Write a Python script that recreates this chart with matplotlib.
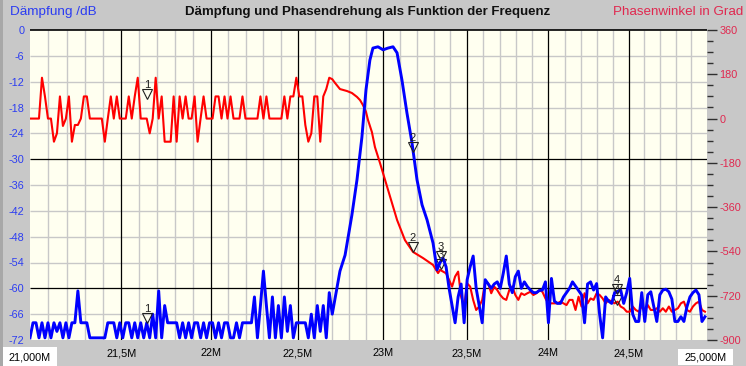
import numpy as np
import matplotlib
matplotlib.use("Agg")
import matplotlib.pyplot as plt
from matplotlib.patches import Rectangle
from matplotlib.ticker import FixedLocator, MultipleLocator, NullLocator, NullFormatter
from matplotlib.transforms import ScaledTranslation

plt.rcParams['font.family'] = ['Liberation Sans', 'DejaVu Sans']

# --- sweep data -------------------------------------------------------------
# low band noise floor (21.0 .. 22.70 MHz)
lo_start, lo_stop = 21.0, 22.70
blue_lo_db = [
    -71.5, -68, -68, -71.5, -68, -71.5, -68, -71.5, -68, -70,
    -68, -71.5, -68, -71.5, -68, -68, -60.6, -68, -68, -68,
    -71.5, -71.5, -71.5, -71.5, -71.5, -71.5, -68, -68, -68, -71.5,
    -68, -71.5, -68, -68, -71.5, -68, -71.5, -68, -71.5, -68,
    -71.5, -66, -71.5, -60.6, -71.5, -64, -68, -68, -68, -68,
    -71.5, -68, -71.5, -68, -71.5, -68, -68, -71.5, -68, -71.5,
    -68, -68, -71.5, -68, -71.5, -68, -68, -71.5, -71.5, -68,
    -71.5, -68, -68, -68, -68, -62, -71.5, -64, -56, -64,
    -71.5, -62, -71.5, -64, -71.5, -62, -70, -64, -71.5, -68,
    -68, -68, -68, -71.5, -66, -71.5, -64, -70, -64, -71.5,
    -61, -66]
red_lo_deg = [
    0, 0, 0, 0, 166, 90, 0, 0, -94, -60,
    90, -30, 0, 90, -94, -26, -26, 0, 90, 90,
    0, 0, 0, 0, 0, -94, 0, 90, 0, 90,
    0, 0, 0, 90, 0, 90, 166, 0, 0, 0,
    -60, 0, 166, 0, 90, -94, -94, -94, 90, -94,
    90, 0, 90, 0, 0, 90, -94, 0, 90, 0,
    0, 0, 90, 90, 0, 90, 0, 90, 0, 0,
    0, 90, 0, 0, 0, 0, 0, 90, 0, 90,
    0, 0, 0, 0, 0, 90, 0, 90, 90, 166,
    90, 90, -26, -94, -60, 90, 90, -94, 90, 120,
    166, 160]

# pass band
blue_lobe_mhz = [22.745, 22.775, 22.815, 22.845, 22.874, 22.898, 22.921, 22.939,
                 22.969, 22.999, 23.028, 23.058, 23.082, 23.111, 23.141, 23.171,
                 23.201, 23.231, 23.261, 23.297, 23.321]
blue_lobe_db = [-56, -52.3, -43.0, -34.8, -24.9, -13.9, -7.0, -4.2,
                -3.9, -4.6, -4.2, -3.9, -5.3, -11.6, -19.3, -26.2,
                -34.8, -40.6, -44.1, -49.5, -55.7]
red_lobe_mhz = [22.716, 22.745, 22.786, 22.815, 22.845, 22.863, 22.880, 22.898,
                22.910, 22.933, 22.951, 22.981, 23.011, 23.046, 23.082, 23.129,
                23.177, 23.237, 23.297, 23.327]
red_lobe_deg = [145, 120, 112, 104, 88, 75, 55, 27,
                -6, -55, -116, -181, -250, -331, -412, -494,
                -542, -567, -595, -628]

# high band noise floor (23.339 .. 24.987 MHz)
hi_start, hi_stop = 23.339, 24.987
blue_hi_db = [
    -54, -53, -55, -60, -64, -68, -62, -59, -68, -58,
    -55, -52.5, -60, -64, -68, -58, -59, -60, -59, -58.5,
    -60, -56.5, -52.5, -59, -61, -57.3, -56, -60, -58.5, -59.6,
    -60.4, -61, -61, -60.5, -60.4, -58.5, -68, -57.7, -63, -63.5,
    -63.5, -62, -61, -60, -58.5, -59.5, -60.5, -61.5, -68, -59,
    -58.5, -60.4, -58.9, -66, -71.5, -62, -63, -63.5, -61, -60.8,
    -60.4, -63.5, -61, -57.7, -66, -67.7, -67.7, -61, -67.7, -61.5,
    -60.8, -64.3, -67.7, -61.5, -60.4, -60.2, -60.8, -62.5, -67.7, -67.7,
    -66.6, -67.7, -64.3, -62, -61, -60.4, -61.5, -67.7, -66.6]
red_hi_deg = [
    -615, -622, -629, -656, -683, -642, -622, -724, -764, -670,
    -683, -737, -778, -764, -737, -663, -670, -710, -683, -697,
    -717, -731, -737, -697, -683, -717, -737, -710, -717, -710,
    -704, -717, -710, -697, -704, -731, -751, -751, -751, -751,
    -744, -751, -758, -737, -737, -778, -724, -764, -710, -751,
    -731, -737, -710, -717, -731, -751, -737, -744, -751, -744,
    -764, -771, -785, -785, -764, -778, -785, -764, -778, -758,
    -778, -778, -771, -785, -771, -785, -764, -785, -778, -771,
    -751, -744, -778, -785, -764, -751, -744, -778, -785]

# markers (frequency in MHz, readouts)
marker_labels = ['1', '2', '3', '4']
marker_mhz = [21.642, 23.177, 23.345, 24.427]
marker_blue_db = [-68, -28.3, -53.6, -61.3]
marker_red_deg = [80, -542, -611, -754]

x_ticks = [21.5, 22.0, 22.5, 23.0, 23.5, 24.0, 24.5]
x_labels = ['21,5M', '22M', '22,5M', '23M', '23,5M', '24M', '24,5M']

# --- assemble traces --------------------------------------------------------
lo_f = np.geomspace(lo_start, lo_stop, len(blue_lo_db))
hi_f = np.geomspace(hi_start, hi_stop, len(blue_hi_db))
blue_f = np.concatenate([lo_f, blue_lobe_mhz, hi_f])
blue_v = np.concatenate([blue_lo_db, blue_lobe_db, blue_hi_db])
red_f = np.concatenate([np.geomspace(lo_start, lo_stop, len(red_lo_deg)), red_lobe_mhz,
                        np.geomspace(hi_start, hi_stop, len(red_hi_deg))])
red_v = np.concatenate([red_lo_deg, red_lobe_deg, red_hi_deg])

# --- figure -----------------------------------------------------------------
BG = '#c8c8c8'
PLOT_BG = '#fffff0'
BLUE_TXT = '#2b3cf2'
RED_TXT = '#e0284f'

fig = plt.figure(figsize=(7.46, 3.66), dpi=100, facecolor=BG)
ax = fig.add_axes([30 / 746, 26 / 366, 677 / 746, 310 / 366])
ax.set_xscale('log')
ax2 = ax.twinx()
ax.set_zorder(ax2.get_zorder() + 1)
ax.patch.set_visible(False)
ax2.patch.set_visible(True)
ax2.patch.set_facecolor(PLOT_BG)

ax.set_xlim(21.0, 25.0)
ax.set_ylim(-72, 0)
ax2.set_ylim(-900, 360)

# grid (drawn on the back axes so both traces sit above it)
minor_f = [f / 10 for f in range(211, 250) if f % 5 != 0]
ax2.vlines(minor_f, 0, 1, transform=ax2.get_xaxis_transform(), color='#c8c8c8', lw=1.0, zorder=0)
ax2.vlines(x_ticks, 0, 1, transform=ax2.get_xaxis_transform(), color='black', lw=0.9, zorder=0.5)
db_minor = [d for d in range(-6, -72, -6) if d % 30 != 0]
ax2.hlines(db_minor, 0, 1, transform=ax.get_yaxis_transform(), color='#c8c8c8', lw=1.0, zorder=0)
ax2.hlines([-30, -60], 0, 1, transform=ax.get_yaxis_transform(), color='black', lw=0.9, zorder=0.5)
ax2.hlines([0], 0, 1, transform=ax.get_yaxis_transform(), color='black', lw=1.2, zorder=0.5,
           clip_on=False)

# traces
ax2.plot(red_f, red_v, color='#ff0000', lw=1.5, zorder=2)
ax.plot(blue_f, blue_v, color='#0000ff', lw=2.1, zorder=2)

# markers
up = ScaledTranslation(0, 0.045, fig.dpi_scale_trans)
for lab, f, b, r in zip(marker_labels, marker_mhz, marker_blue_db, marker_red_deg):
    ax.plot([f], [b], marker='v', ms=6.5, mfc='none', mec='#202020', mew=0.8,
            transform=ax.transData + up, zorder=5, clip_on=False)
    ax.annotate(lab, (f, b), xytext=(0, 10), textcoords='offset points', ha='center',
                va='center', fontsize=8, color='#202020', zorder=5)
    ax2.plot([f], [r], marker='v', ms=6.5, mfc='none', mec='#202020', mew=0.8,
             transform=ax2.transData + up, zorder=5)
    ax2.annotate(lab, (f, r), xytext=(0, 10), textcoords='offset points', ha='center',
                 va='center', fontsize=8, color='#202020', zorder=5)

# axes / ticks
for a in (ax, ax2):
    for s in a.spines.values():
        s.set_visible(False)

ax.xaxis.set_major_locator(FixedLocator(x_ticks))
ax.set_xticklabels(x_labels)
ax.xaxis.set_minor_locator(NullLocator())
ax.xaxis.set_minor_formatter(NullFormatter())
ax.tick_params(axis='x', length=0, pad=6, labelsize=7.8, labelcolor='black')

db_ticks = list(range(0, -73, -6))
ax.set_yticks(db_ticks)
ax.set_yticklabels([str(d) for d in db_ticks])
ax.tick_params(axis='y', length=0, pad=4, labelsize=7.8, labelcolor=BLUE_TXT)

ph_ticks = list(range(-900, 361, 180))
ax2.yaxis.set_major_locator(FixedLocator(ph_ticks))
ax2.set_yticklabels([str(p) for p in ph_ticks])
ax2.yaxis.set_minor_locator(MultipleLocator(45))
ax2.tick_params(axis='y', which='major', length=7, width=1, color='#303030', pad=2,
                labelsize=7.8, labelcolor=RED_TXT)
ax2.tick_params(axis='y', which='minor', length=4, width=1, color='#303030')

# header texts
fig.text(10 / 746, 1 - 12 / 366, 'Dämpfung /dB', color=BLUE_TXT, fontsize=9.7, va='center')
fig.text(368 / 746, 1 - 12 / 366, 'Dämpfung und Phasendrehung als Funktion der Frequenz',
         color='#111111', fontsize=9.5, fontweight='bold', ha='center', va='center')
fig.text(743 / 746, 1 - 12 / 366, 'Phasenwinkel in Grad', color=RED_TXT, fontsize=9.6,
         ha='right', va='center')

# start / stop boxes
fig.patches.append(Rectangle((3 / 746, 0), 54 / 746, 19 / 366, transform=fig.transFigure,
                             facecolor='white', edgecolor='none'))
fig.patches.append(Rectangle((678 / 746, 1 / 366), 55 / 746, 16 / 366, transform=fig.transFigure,
                             facecolor='white', edgecolor='none'))
fig.patches.append(Rectangle((0, 0), 2.5 / 746, 1, transform=fig.transFigure,
                             facecolor='#a8a8a8', edgecolor='none'))
fig.text(30 / 746, 1 - 357 / 366, '21,000M', fontsize=7.8, ha='center', va='center')
fig.text(705.5 / 746, 1 - 357 / 366, '25,000M', fontsize=7.8, ha='center', va='center')

fig.savefig('out.png', dpi=100, facecolor=BG)
